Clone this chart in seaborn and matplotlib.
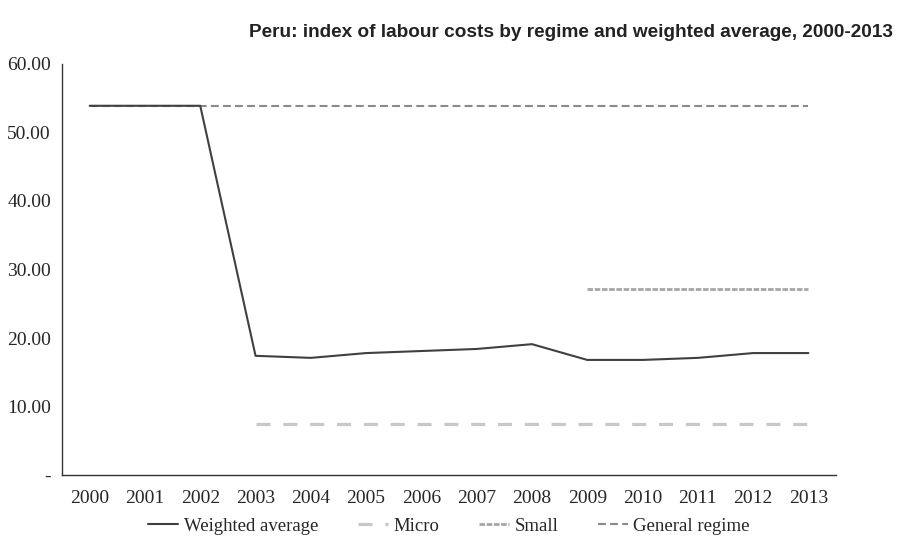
import matplotlib.pyplot as plt
import pandas as pd
import seaborn as sns
import numpy as np

# Data
years = [2000, 2001, 2002, 2003, 2004, 2005, 2006, 2007, 2008, 2009, 2010, 2011, 2012, 2013]
weighted_average = [53.9, 53.9, 53.9, 17.4, 17.1, 17.8, 18.1, 18.4, 19.1, 16.8, 16.8, 17.1, 17.8, 17.8]
micro = [None, None, None, 7.4, 7.4, 7.4, 7.4, 7.4, 7.4, 7.4, 7.4, 7.4, 7.4, 7.4]
small = [None, None, None, None, None, None, None, None, None, 27.2, 27.2, 27.2, 27.2, 27.2]
general_regime = [53.9] * 14
yticks = [0, 10, 20, 30, 40, 50, 60]

df = pd.DataFrame({
    'pos': np.arange(len(years)),
    'Weighted average': weighted_average,
    'Micro': micro,
    'Small': small,
    'General regime': general_regime,
})

sns.set_style('white')
plt.rcParams['font.family'] = ['Liberation Serif', 'DejaVu Serif']

fig = plt.figure(figsize=(8.99, 5.36), dpi=100)
ax = fig.add_axes([0.069, 0.1138, 0.861, 0.7668])

# Draw order: general regime under the weighted average
sns.lineplot(data=df, x='pos', y='General regime', ax=ax, color='#8a8a8a',
             linewidth=1.5, linestyle=(0, (3.8, 2.0)), label='General regime')
sns.lineplot(data=df, x='pos', y='Micro', ax=ax, color='#c8c8c8',
             linewidth=2.3, linestyle=(0, (4.4, 4.0)), label='Micro')
sns.lineplot(data=df, x='pos', y='Small', ax=ax, color='#a6a6a6',
             linewidth=2.0, linestyle=(0, (2, 0.6)), label='Small')
sns.lineplot(data=df, x='pos', y='Weighted average', ax=ax, color='#404040',
             linewidth=1.5, label='Weighted average')

ax.set_xlim(-0.5, len(years) - 0.5)
ax.set_ylim(0, 60)
ax.set_xlabel('')
ax.set_ylabel('')

# x ticks at category boundaries, labels centered
ax.set_xticks(np.arange(-0.5, len(years), 1.0))
ax.set_xticklabels([])
ax.set_xticks(np.arange(len(years)), minor=True)
ax.set_xticklabels([str(y) for y in years], minor=True, fontsize=14)
ax.tick_params(axis='x', which='major', direction='out', length=5, width=1, color='#333333')
ax.tick_params(axis='x', which='minor', length=0, pad=11)

ax.set_yticks(yticks)
ax.set_yticklabels(['-'] + ['%.2f' % v for v in yticks[1:]], fontsize=14)
ax.tick_params(axis='y', direction='out', length=5, width=1, color='#333333', pad=3)

for side in ['top', 'right']:
    ax.spines[side].set_visible(False)
for side in ['left', 'bottom']:
    ax.spines[side].set_color('#333333')
    ax.spines[side].set_linewidth(1.0)

handles, labels = ax.get_legend_handles_labels()
order = ['Weighted average', 'Micro', 'Small', 'General regime']
hmap = dict(zip(labels, handles))
ax.legend([hmap[k] for k in order], order, loc='center',
          bbox_to_anchor=(0.5, -0.124), ncol=4, frameon=False, fontsize=13.5,
          handlelength=1.6, columnspacing=2.1, handletextpad=0.3)

fig.text(0.993, 0.94, 'Peru: index of labour costs by regime and weighted average, 2000-2013',
         ha='right', va='center', fontsize=13.7, fontweight='bold', color='#222222',
         family=['Liberation Sans', 'DejaVu Sans'])

fig.savefig('out.png', dpi=100)
